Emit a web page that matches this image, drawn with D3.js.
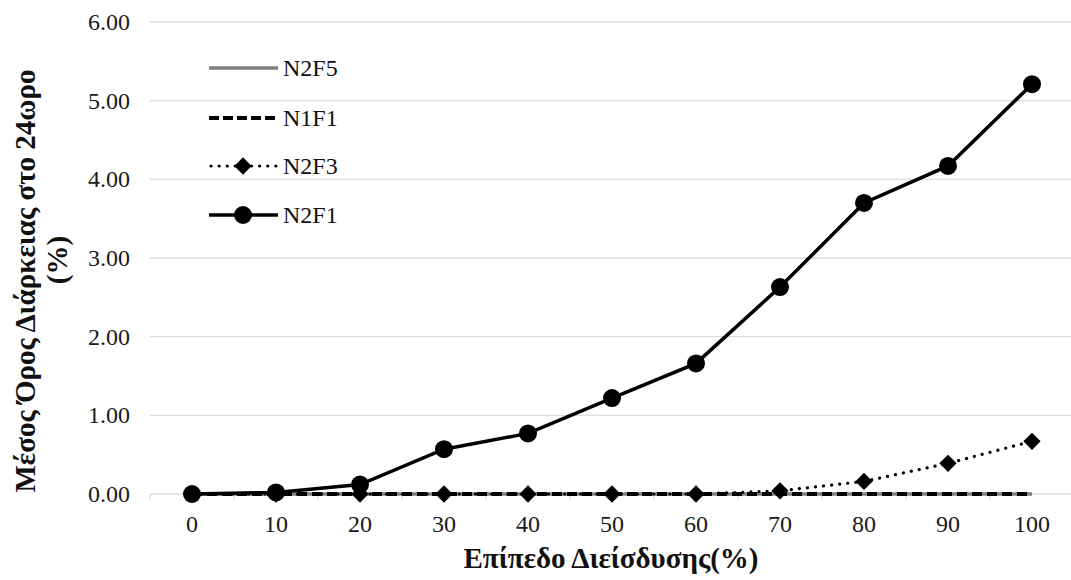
<!DOCTYPE html>
<html><head><meta charset="utf-8">
<script src="https://cdn.jsdelivr.net/npm/d3@7"></script>
<style>body{margin:0;background:#fff}svg{display:block}</style>
</head><body><svg id="c" width="1071" height="580"></svg>
<script>
const categories = [0,10,20,30,40,50,60,70,80,90,100];
const yTicks = [0,1,2,3,4,5,6];
const N2F5 = [0,0,0,0,0,0,0,0,0,0,0];
const N1F1 = [0,0,0,0,0,0,0,0,0,0,0];
const N2F3 = [0,0,0,0,0,0,0,0.04,0.16,0.39,0.67];
const N2F1 = [0,0.02,0.12,0.57,0.77,1.22,1.66,2.63,3.70,4.17,5.21];
const seriesNames = ["N2F5","N1F1","N2F3","N2F1"];

const FONT = "'Liberation Serif', 'Times New Roman', Times, 'DejaVu Serif', serif";
const svg = d3.select("#c");
const x = d3.scaleBand().domain(categories).range([150,1074]);
const y = d3.scaleLinear().domain([0,6]).range([494,22]);

svg.append("g").selectAll("line").data(yTicks).join("line")
  .attr("x1",150).attr("x2",1071).attr("y1",d=>y(d)).attr("y2",d=>y(d))
  .attr("stroke","#d9dde4").attr("stroke-width",1.3);
svg.append("g").selectAll("text").data(yTicks).join("text")
  .attr("x",130).attr("y",d=>y(d)+8).attr("text-anchor","end")
  .style("font-family",FONT).attr("font-size",24).attr("fill","#1a1a1a").text(d=>d3.format(".2f")(d));
const bounds = categories.map(c=>x(c)).concat([x.range()[1]]);
svg.append("g").selectAll("line").data(bounds).join("line")
  .attr("x1",d=>d).attr("x2",d=>d).attr("y1",y(0)).attr("y2",y(0)+6)
  .attr("stroke","#d9dde4").attr("stroke-width",1.3);
svg.append("g").selectAll("text").data(categories).join("text")
  .attr("x",d=>x(d)+x.bandwidth()/2).attr("y",532).attr("text-anchor","middle")
  .style("font-family",FONT).attr("font-size",24).attr("fill","#1a1a1a").text(d=>d);

const cx = (d,i)=>x(categories[i])+x.bandwidth()/2;
const line = d3.line().x(cx).y(d=>y(d));

const sGray = s=>s.attr("stroke","#7f7f7f").attr("stroke-width",3.5);
const sDash = s=>s.attr("stroke","#000").attr("stroke-width",4).attr("stroke-dasharray","10,5");
const sDot = s=>s.attr("stroke","#000").attr("stroke-width",3.2).attr("stroke-dasharray","0.1,8").attr("stroke-linecap","round");
const sSolid = s=>s.attr("stroke","#000").attr("stroke-width",3.5);

svg.append("path").datum(N2F5).attr("d",line).attr("fill","none").call(sGray);
svg.append("path").datum(N1F1).attr("d",line).attr("fill","none").call(sDash);
svg.append("path").datum(N2F3).attr("d",line).attr("fill","none").call(sDot);
const diamond = d3.symbol().type(d3.symbolDiamond2).size(190);
svg.append("g").selectAll("path").data(N2F3).join("path")
  .attr("d",diamond).attr("transform",(d,i)=>`translate(${cx(d,i)},${y(d)})`).attr("fill","#000");
svg.append("path").datum(N2F1).attr("d",line).attr("fill","none").call(sSolid);
svg.append("g").selectAll("circle").data(N2F1).join("circle")
  .attr("cx",cx).attr("cy",d=>y(d)).attr("r",9).attr("fill","#000");

const ly = [68,118,166,215];
const lg = svg.append("g");
seriesNames.forEach((n,i)=>{
  const g = lg.append("g");
  const l = g.append("line").attr("x1",209).attr("x2",278).attr("y1",ly[i]).attr("y2",ly[i]).attr("fill","none");
  if(n==="N2F5") l.call(sGray);
  if(n==="N1F1") l.call(sDash).attr("stroke-dasharray","10,4");
  if(n==="N2F3") {l.call(sDot).attr("x1",211);
    g.append("path").attr("d",diamond).attr("transform",`translate(243,${ly[i]})`).attr("fill","#000");}
  if(n==="N2F1") {l.call(sSolid);
    g.append("circle").attr("cx",243).attr("cy",ly[i]).attr("r",9).attr("fill","#000");}
  g.append("text").attr("x",283).attr("y",ly[i]+8).style("font-family",FONT).attr("font-size",24).attr("fill","#111").text(n);
});

svg.append("text").attr("x",611).attr("y",568).attr("text-anchor","middle").style("font-family",FONT)
  .attr("font-size",29).attr("font-weight","bold").attr("fill","#111").text("Επίπεδο Διείσδυσης(%)");
svg.append("text").attr("transform","translate(35,281) rotate(-90)").attr("text-anchor","middle").style("font-family",FONT)
  .attr("font-size",29).attr("font-weight","bold").attr("fill","#111").text("Μέσος Όρος Διάρκειας στο 24ωρο");
svg.append("text").attr("transform","translate(67,260) rotate(-90)").attr("text-anchor","middle").style("font-family",FONT)
  .attr("font-size",29).attr("font-weight","bold").attr("fill","#111").text("(%)");
</script></body></html>
